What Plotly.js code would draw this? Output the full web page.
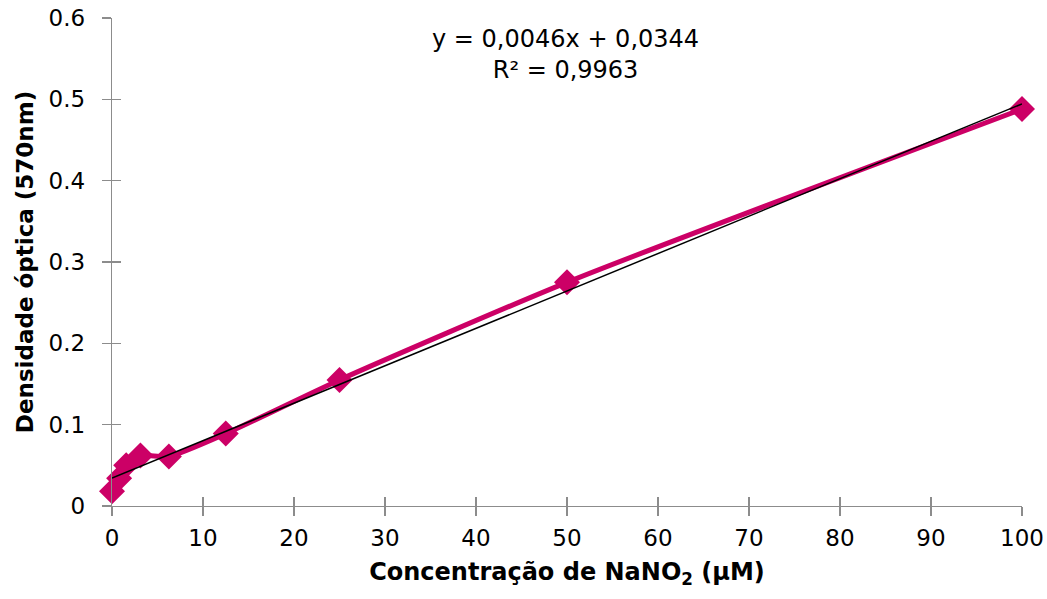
<!DOCTYPE html>
<html><head><meta charset="utf-8">
<script src="https://cdn.plot.ly/plotly-3.0.1.min.js"></script>
<style>body{margin:0;background:#fff}#c{width:1047px;height:599px}</style>
</head><body><div id="c"></div>
<script>
const concentration = [0, 0.78, 1.56, 3.125, 6.25, 12.5, 25, 50, 100];
const opticalDensity = [0.018, 0.034, 0.05, 0.062, 0.061, 0.089, 0.155, 0.275, 0.488];
const trendSlope = 0.0046;
const trendIntercept = 0.0344;
const xTicks = [0, 10, 20, 30, 40, 50, 60, 70, 80, 90, 100];
const yTicks = [0, 0.1, 0.2, 0.3, 0.4, 0.5, 0.6];
const yTickLabels = ['0', '0.1', '0.2', '0.3', '0.4', '0.5', '0.6'];

const xMin = Math.min(...concentration), xMax = Math.max(...concentration);
const pink = '#CC0066';
const font = 'DejaVu Sans, Liberation Sans, Arial, sans-serif';

const traces = [
  {x: concentration, y: opticalDensity, type: 'scatter', mode: 'lines+markers',
   line: {color: pink, width: 5, shape: 'spline', smoothing: 0.6},
   marker: {symbol: 'diamond', size: 20, color: pink}, cliponaxis: false, hoverinfo: 'x+y'},
  {x: [xMin, xMax], y: [trendIntercept + trendSlope * xMin, trendIntercept + trendSlope * xMax],
   type: 'scatter', mode: 'lines', line: {color: '#000', width: 1.5}, cliponaxis: false},
  {x: [xMin], y: [0], xaxis: 'x2', yaxis: 'y2', type: 'scatter', mode: 'markers', marker: {opacity: 0}, hoverinfo: 'skip'}
];

const axCommon = {showgrid: false, zeroline: false, showline: true, linecolor: '#8c8c8c', linewidth: 1.3,
  tickcolor: '#8c8c8c', ticklen: 9, tickwidth: 1.3, tickfont: {family: font, size: 23, color: '#000'}};

const layout = {
  width: 1047, height: 599, paper_bgcolor: '#fff', plot_bgcolor: '#fff', showlegend: false,
  margin: {l: 112, r: 25, t: 18, b: 93},
  xaxis: Object.assign({}, axCommon, {range: [0, 100], tickvals: xTicks, ticks: 'outside', ticklabelstandoff: 2,
    title: {text: '<b>Concentração de NaNO<sub>2</sub> (µM)</b>', font: {family: font, size: 24, color: '#000'}, standoff: 13}}),
  yaxis: Object.assign({}, axCommon, {range: [0, 0.6], tickvals: yTicks, ticktext: yTickLabels, ticks: 'outside', ticklabelstandoff: 12,
    title: {text: '<b>Densidade óptica (570nm)</b>', font: {family: font, size: 23, color: '#000'}, standoff: 8}}),
  xaxis2: Object.assign({}, axCommon, {range: [0, 100], tickvals: xTicks, ticks: 'inside', showticklabels: false, overlaying: 'x', anchor: 'y2'}),
  yaxis2: Object.assign({}, axCommon, {range: [0, 0.6], tickvals: yTicks, ticks: 'inside', showticklabels: false, overlaying: 'y', anchor: 'x2'}),
  annotations: [{xref: 'paper', yref: 'paper', x: 0.498, y: 0.925, xanchor: 'center', yanchor: 'middle', showarrow: false,
    text: 'y = 0,0046x + 0,0344<br>R² = 0,9963', font: {family: font, size: 24, color: '#000'}}]
};

Plotly.newPlot('c', traces, layout, {displayModeBar: false, staticPlot: true});
</script></body></html>
